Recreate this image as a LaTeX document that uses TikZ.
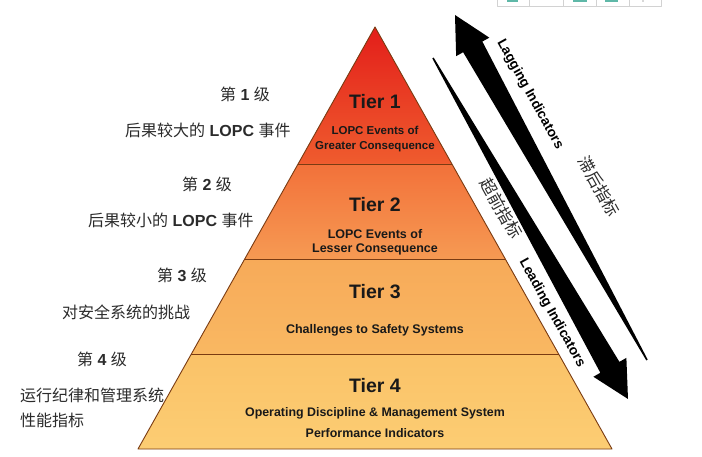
\documentclass[tikz,border=0pt]{standalone}
\usepackage{fontspec}
\setmainfont{Liberation Sans}
\newfontfamily\cjk{Noto Sans CJK SC}
\usetikzlibrary{calc}
\definecolor{TierOneTop}{HTML}{E31E1A}
\definecolor{TierOneBot}{HTML}{EF5C2E}
\definecolor{TierTwoTop}{HTML}{F2713A}
\definecolor{TierTwoBot}{HTML}{F69A53}
\definecolor{TierThreeTop}{HTML}{F7AA59}
\definecolor{TierThreeBot}{HTML}{F9B862}
\definecolor{TierFourTop}{HTML}{FAC268}
\definecolor{TierFourBot}{HTML}{FCCD73}
\definecolor{PyrEdge}{HTML}{7A3B12}
\definecolor{LabelGray}{HTML}{2B2B2B}
\definecolor{StripTeal}{HTML}{5FB8A8}
\newcommand{\zh}[1]{{\cjk #1}}
% tapered indicator arrow: #1 tail, #2 tip
\newcommand{\indicatorarrow}[2]{%
  \path ($(#2)!36.5pt!(#1)$) coordinate (#2base);
  \fill ($(#1)!0.8pt!90:(#2)$) -- ($(#2base)!11pt!90:(#2)$) -- ($(#2base)!19pt!90:(#2)$) -- (#2)
    -- ($(#2base)!19pt!-90:(#2)$) -- ($(#2base)!11pt!-90:(#2)$) -- ($(#1)!0.8pt!-90:(#2)$) -- cycle;}
\tikzset{
  tiertitle/.style={inner sep=0pt,text=black!90,font=\fontsize{19.5}{22}\selectfont\bfseries},
  tiernote/.style={inner sep=0pt,text=black!90,align=center,font=\fontsize{12.5}{14.3}\selectfont\bfseries},
  levellabel/.style={anchor=west,inner sep=0pt,text=LabelGray,font=\fontsize{16}{18}\selectfont},
  arrowtext/.style={rotate=-60.9,inner sep=0pt,font=\fontsize{13.7}{16}\selectfont\bfseries},
  arrowzh/.style={rotate=-60.9,inner sep=0pt,text=LabelGray,font=\cjk\fontsize{16.5}{18}\selectfont},
  tierline/.style={PyrEdge,line width=0.9pt}
}
\begin{document}
\begin{tikzpicture}[x=1pt,y=1pt,line join=round]
  \useasboundingbox (0,0) rectangle (702,-457);
  \fill[white] (0,0) rectangle (702,-457);
  % strip cut off at the top edge
  \draw[gray!35,line width=0.6pt] (497,0) -- (497,-6.7) -- (661,-6.7) -- (661,0);
  \foreach \x in {529.5,563,596,629} \draw[gray!35,line width=0.6pt] (\x,0) -- (\x,-6.7);
  \foreach \a/\b in {507/518,573/587,605/618} \fill[StripTeal] (\a,0) rectangle (\b,-2.2);
  \fill[gray!60] (643,-1) circle (0.9);
  % pyramid
  \coordinate (apex) at (375,-27);
  \coordinate (bl) at (138,-449);\coordinate (br) at (612,-449);
  \foreach \n/\t in {1/0.3246,2/0.5498,3/0.7749}{
    \coordinate (l\n) at ($(apex)!\t!(bl)$);
    \coordinate (r\n) at ($(apex)!\t!(br)$);
  }
  \shade[top color=TierOneTop,bottom color=TierOneBot] (apex) -- (r1) -- (l1) -- cycle;
  \shade[top color=TierTwoTop,bottom color=TierTwoBot] (l1) -- (r1) -- (r2) -- (l2) -- cycle;
  \shade[top color=TierThreeTop,bottom color=TierThreeBot] (l2) -- (r2) -- (r3) -- (l3) -- cycle;
  \shade[top color=TierFourTop,bottom color=TierFourBot] (l3) -- (r3) -- (br) -- (bl) -- cycle;
  \foreach \n in {1,2,3} \draw[tierline] (l\n) -- (r\n);
  \draw[tierline] (apex) -- (br) -- (bl) -- cycle;
  % tier texts
  \node[tiertitle] (t1) at (375,-101.5) {Tier 1};
  \node[tiernote,font=\fontsize{11.5}{14.3}\selectfont\bfseries] (t1n) at (375,-139) {LOPC Events of\\Greater Consequence};
  \node[tiertitle] (t2) at (375,-204.5) {Tier 2};
  \node[tiernote] (t2n) at (375,-242) {LOPC Events of\\Lesser Consequence};
  \node[tiertitle] (t3) at (375,-291.7) {Tier 3};
  \node[tiernote] (t3n) at (375,-330) {Challenges to Safety Systems};
  \node[tiertitle] (t4) at (375,-386) {Tier 4};
  \node[tiernote,font=\fontsize{12.4}{21.6}\selectfont\bfseries] (t4n) at (375,-422.5) {Operating Discipline \& Management System\\Performance Indicators};
  % level labels on the left
  \node[levellabel] (lv1) at (220,-94.5) {\zh{第} \textbf{1} \zh{级}};
  \node[levellabel] (lv1d) at (125,-130.5) {\zh{后果较大的} \textbf{LOPC} \zh{事件}};
  \node[levellabel] (lv2) at (182,-184.5) {\zh{第} \textbf{2} \zh{级}};
  \node[levellabel] (lv2d) at (88,-220) {\zh{后果较小的} \textbf{LOPC} \zh{事件}};
  \node[levellabel] (lv3) at (157,-275.5) {\zh{第} \textbf{3} \zh{级}};
  \node[levellabel] (lv3d) at (62,-312.5) {\zh{对安全系统的挑战}};
  \node[levellabel] (lv4) at (77,-359.5) {\zh{第} \textbf{4} \zh{级}};
  \node[levellabel] (lv4d) at (20,-395.5) {\zh{运行纪律和管理系统}};
  \node[levellabel] (lv4e) at (20,-420.5) {\zh{性能指标}};
  % indicator arrows
  \coordinate (lagtail) at (647,-360);\coordinate (lagtip) at (455,-15);
  \coordinate (leadtail) at (433,-58);\coordinate (leadtip) at (628,-399);
  \indicatorarrow{lagtail}{lagtip}
  \indicatorarrow{leadtail}{leadtip}
  \node[arrowtext] (lag) at (530,-94.5) {Lagging Indicators};
  \node[arrowzh] (lagzh) at (599,-186.4) {滞后指标};
  \node[arrowzh] (leadzh) at (501.5,-208.5) {超前指标};
  \node[arrowtext] (lead) at (552,-313.3) {Leading Indicators};
\end{tikzpicture}
\end{document}
